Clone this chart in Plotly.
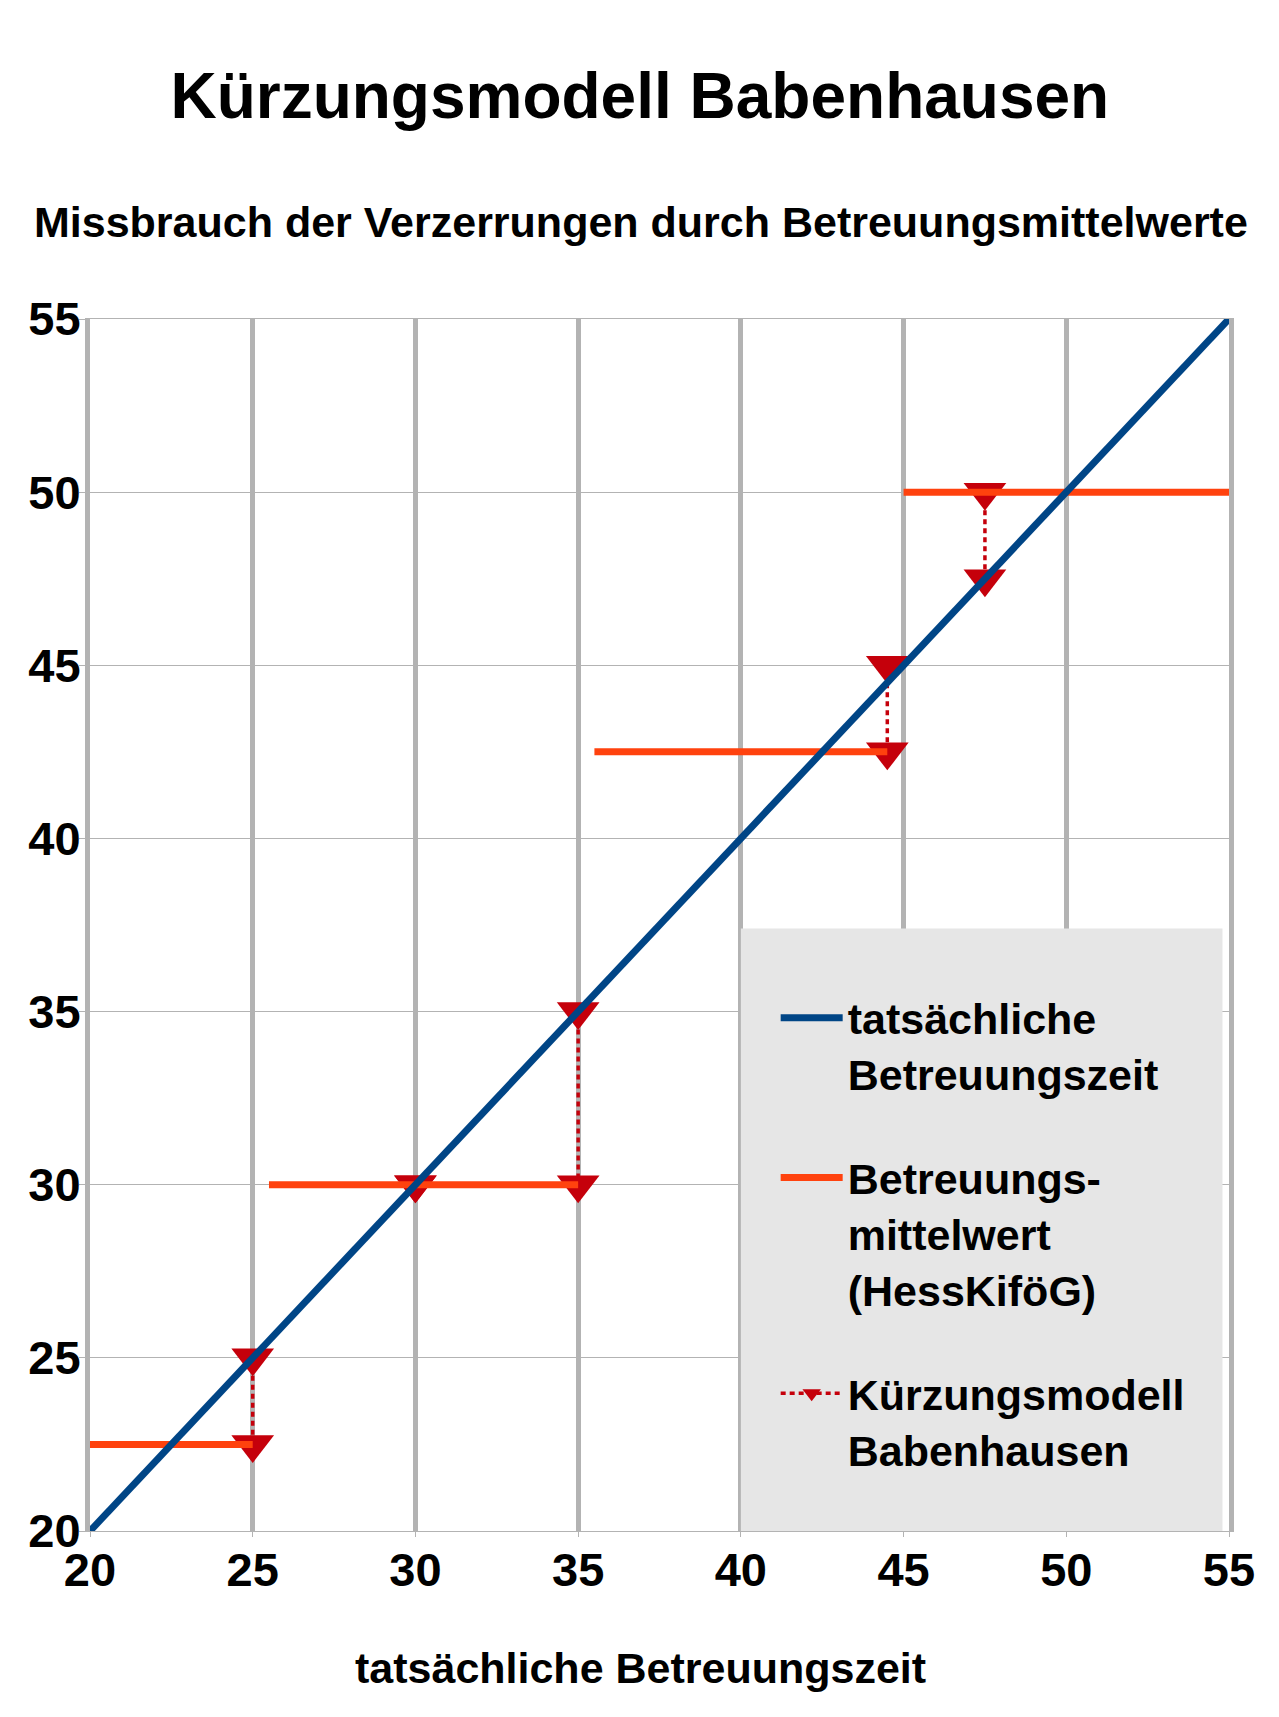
import plotly.graph_objects as go

# Werte
actual_x = [20, 55]
actual_y = [20, 55]

# Betreuungsmittelwert: waagrechte Abschnitte
mean_start = [20, 25.5, 35.5, 45]
mean_end = [25, 35, 44.5, 55]
mean_value = [22.5, 30, 42.5, 50]

# Kürzungsmodell: Paare (Ausgangswert -> gekürzter Wert)
cut_x = [25, 30, 35, 44.5, 47.5]
cut_from = [25, 30, 35, 45, 50]
cut_to = [22.5, 30, 30, 42.5, 47.5]

ticks = [20, 25, 30, 35, 40, 45, 50, 55]

FONT = "Liberation Sans, Arial, sans-serif"
GRID = "#b3b3b3"

mx, my = [], []
for a, b, v in zip(mean_start, mean_end, mean_value):
    mx += [a, b, None]
    my += [v, v, None]

cx, cy = [], []
for x, a, b in zip(cut_x, cut_from, cut_to):
    cx += [x, x, None]
    cy += [a, b, None]

fig = go.Figure()

fig.add_trace(go.Scatter(
    x=cx, y=cy, mode="lines+markers",
    name="Kürzungsmodell<br>Babenhausen",
    line=dict(color="#c5000b", width=3.5, dash="5px,4px"),
    marker=dict(symbol="triangle-down", size=37, color="#c5000b"),
    legendrank=3, legendgroup="c",
))
fig.add_trace(go.Scatter(
    x=mx, y=my, mode="lines",
    name="Betreuungs-<br>mittelwert<br>(HessKiföG)",
    line=dict(color="#ff420e", width=7),
    legendrank=2, legendgroup="b",
))
fig.add_trace(go.Scatter(
    x=actual_x, y=actual_y, mode="lines",
    name="tatsächliche<br>Betreuungszeit",
    line=dict(color="#004586", width=7),
    legendrank=1, legendgroup="a",
))

# grauer Legendenhintergrund
fig.add_shape(type="rect", xref="x", yref="y", x0=40, x1=54.8, y0=20, y1=37.4,
              fillcolor="#e6e6e6", line=dict(width=0), layer="between")

fig.update_layout(
    width=1279, height=1717,
    margin=dict(l=82, r=58, t=311, b=194),
    paper_bgcolor="white", plot_bgcolor="white",
    font=dict(family=FONT, color="black", size=42, weight="bold"),
    title=dict(text="Kürzungsmodell Babenhausen", x=0.494, xanchor="center",
               y=1 - 87.5 / 1717, yanchor="middle", yref="container",
               font=dict(size=64, family=FONT, weight="bold")),
    showlegend=True,
    legend=dict(x=0.602, xanchor="left", y=0.452, yanchor="top",
                bgcolor="rgba(0,0,0,0)", borderwidth=0,
                font=dict(size=43, family=FONT, weight="bold"),
                itemwidth=62, tracegroupgap=45, valign="top"),
    annotations=[
        dict(text="Missbrauch der Verzerrungen durch Betreuungsmittelwerte",
             xref="paper", yref="paper", x=0.4837, y=(1531 - 222) / 1212,
             xanchor="center", yanchor="middle", showarrow=False,
             font=dict(size=43, family=FONT, weight="bold")),
        dict(text="tatsächliche Betreuungszeit",
             xref="paper", yref="paper", x=0.4837, y=(1531 - 1668) / 1212,
             xanchor="center", yanchor="middle", showarrow=False,
             font=dict(size=43, family=FONT, weight="bold")),
    ],
)

fig.update_xaxes(
    range=[20, 55], tickvals=ticks, showgrid=True, gridcolor=GRID, gridwidth=5,
    showline=True, linecolor=GRID, linewidth=1, mirror=True,
    ticks="outside", ticklen=5, tickcolor=GRID, tickwidth=1,
    tickfont=dict(size=47, family=FONT, weight="bold"), zeroline=False,
    ticklabelstandoff=-7,
)
fig.update_yaxes(
    range=[20, 55], tickvals=ticks, showgrid=True, gridcolor=GRID, gridwidth=1,
    showline=True, linecolor=GRID, linewidth=5, mirror=True,
    ticks="outside", ticklen=6, tickcolor=GRID, tickwidth=1,
    tickfont=dict(size=47, family=FONT, weight="bold"), zeroline=False,
    ticklabelstandoff=-11,
)

fig.write_html("out.html")
